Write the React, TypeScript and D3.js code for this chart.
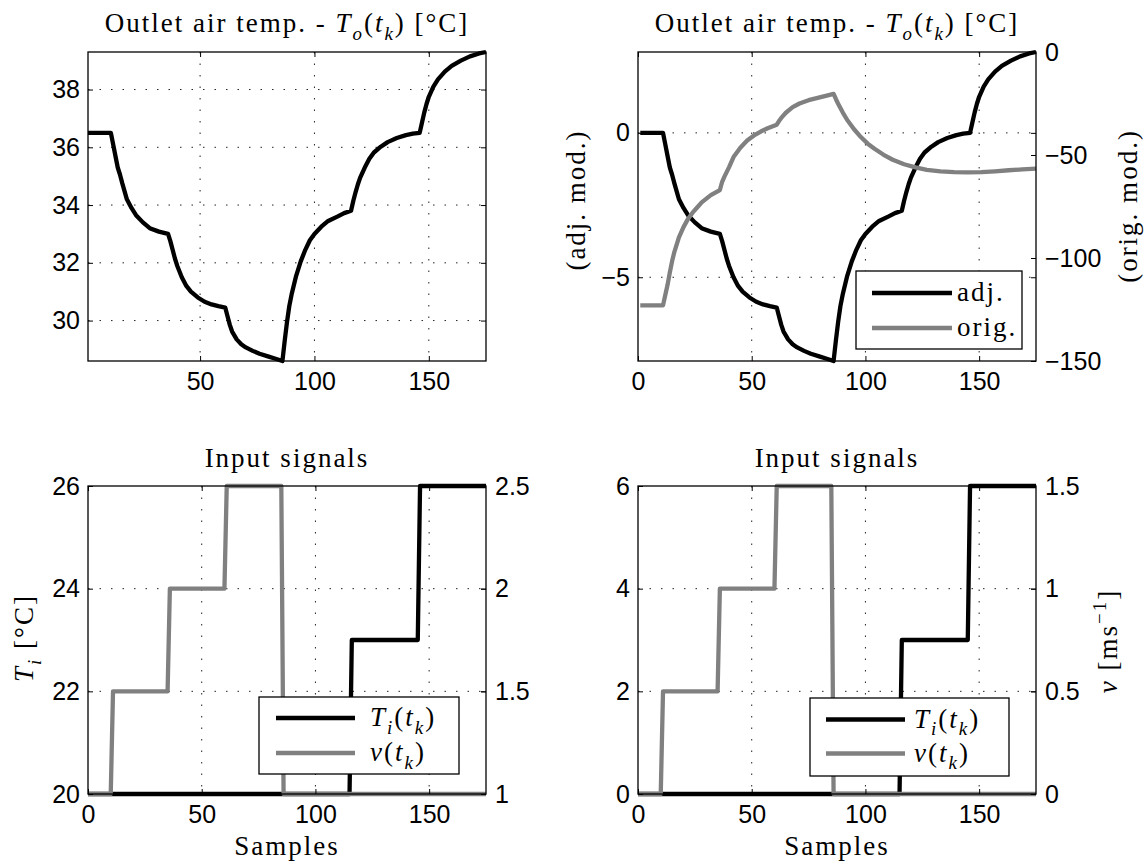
import * as d3 from 'd3'
import React, { useEffect, useRef } from 'react'

// Outlet air temperature (sample index / degC)
const kOutlet = [1, 11, 12, 13, 14, 15, 16, 18, 20, 22, 25, 28, 32, 36, 37, 38, 39, 40, 42, 44, 46, 49, 52, 55, 58, 61, 62, 63, 64, 66, 68, 70, 73, 76, 80, 83, 86, 87, 88, 89, 90, 92, 94, 96, 98, 100, 103, 106, 110, 113, 116, 117, 118, 119, 120, 122, 124, 126, 129, 132, 136, 140, 143, 146, 147, 148, 149, 150, 152, 154, 157, 160, 164, 168, 172, 175]
const outletTemp = [36.5, 36.5, 36.1, 35.7, 35.3, 35.05, 34.75, 34.2, 33.9, 33.65, 33.4, 33.2, 33.08, 33.0, 32.75, 32.45, 32.15, 31.9, 31.5, 31.2, 31.0, 30.8, 30.65, 30.56, 30.5, 30.45, 30.15, 29.85, 29.62, 29.35, 29.18, 29.07, 28.95, 28.85, 28.75, 28.68, 28.6, 29.3, 29.95, 30.5, 30.9, 31.55, 32.05, 32.45, 32.78, 33.0, 33.25, 33.45, 33.6, 33.72, 33.8, 34.15, 34.45, 34.72, 34.95, 35.3, 35.6, 35.82, 36.02, 36.18, 36.32, 36.42, 36.47, 36.5, 36.85, 37.2, 37.5, 37.75, 38.1, 38.35, 38.62, 38.82, 39.0, 39.15, 39.25, 39.3]

// adjusted model (top-right, left axis)
const adjModel = [0, 0, -0.4, -0.8, -1.2, -1.45, -1.75, -2.3, -2.6, -2.85, -3.1, -3.3, -3.42, -3.5, -3.75, -4.05, -4.35, -4.6, -5.0, -5.3, -5.5, -5.7, -5.85, -5.94, -6.0, -6.05, -6.35, -6.65, -6.88, -7.15, -7.32, -7.43, -7.55, -7.65, -7.75, -7.82, -7.9, -7.2, -6.55, -6.0, -5.6, -4.95, -4.45, -4.05, -3.72, -3.5, -3.25, -3.05, -2.9, -2.78, -2.7, -2.35, -2.05, -1.78, -1.55, -1.2, -0.9, -0.68, -0.48, -0.32, -0.18, -0.08, -0.03, 0, 0.35, 0.7, 1.0, 1.25, 1.6, 1.85, 2.12, 2.32, 2.5, 2.65, 2.75, 2.8]

// original model (top-right, right axis)
const kOrig = [1, 11, 12, 13, 14, 15, 16, 18, 20, 22, 24, 26, 28, 32, 36, 37, 38, 40, 42, 45, 48, 51, 54, 57, 61, 62, 63, 65, 68, 71, 75, 79, 83, 86, 87, 88, 90, 92, 95, 98, 101, 104, 108, 112, 117, 122, 127, 133, 139, 145, 151, 157, 163, 169, 175]
const origModel = [-123, -123, -118, -113, -107, -101.5, -97, -90, -85, -81, -78, -75.5, -73, -69.5, -67, -63, -60.5, -56, -51, -46.5, -43, -40.5, -38.6, -37, -35.3, -33.5, -32, -29.5, -26.8, -25, -23.4, -22.3, -21.2, -20.3, -22.8, -25.1, -29.3, -33, -37.5, -41.3, -44.5, -47, -49.9, -52.3, -54.5, -56, -57.2, -57.9, -58.3, -58.4, -58.3, -57.9, -57.4, -57, -56.6]

// input signals
const kInlet = [0, 115, 116, 145, 146, 175]
const inletTemp = [20, 20, 23, 23, 26, 26]
const inletDelta = [0, 0, 3, 3, 6, 6]
const kSpeed = [0, 10, 11, 35, 36, 60, 61, 85, 86, 175]
const airSpeed = [1, 1, 1.5, 1.5, 2, 2, 2.5, 2.5, 1, 1]
const speedDelta = [0, 0, 0.5, 0.5, 1, 1, 1.5, 1.5, 0, 0]

// ticks
const xTicksTop = [50, 100, 150]
const xTicks = [0, 50, 100, 150]
const tempTicks = [30, 32, 34, 36, 38]
const adjTicks = [-5, 0]
const origTicks = [-150, -100, -50, 0]
const inletTicks = [20, 22, 24, 26]
const speedTicks = [1, 1.5, 2, 2.5]
const deltaTTicks = [0, 2, 4, 6]
const deltaVTicks = [0, 0.5, 1, 1.5]

const SANS = '"Liberation Sans", Arial, sans-serif'
const SERIF = '"Liberation Serif", "Times New Roman", serif'
const SERIF_SIZE = 27
const GRAY = '#808080'

type Seg = { t: string; it?: boolean; sub?: boolean; sup?: boolean }

const titleTemp: Seg[] = [
    { t: 'Outlet air temp. - ' }, { t: 'T', it: true }, { t: 'o', it: true, sub: true },
    { t: '(' }, { t: 't', it: true }, { t: 'k', it: true, sub: true }, { t: ') [°C]' },
]
const titleInput: Seg[] = [{ t: 'Input signals' }]
const legTi: Seg[] = [{ t: 'T', it: true }, { t: 'i', it: true, sub: true }, { t: '(' }, { t: 't', it: true }, { t: 'k', it: true, sub: true }, { t: ')' }]
const legV: Seg[] = [{ t: 'v', it: true }, { t: '(' }, { t: 't', it: true }, { t: 'k', it: true, sub: true }, { t: ')' }]

const fmt = (d: any) => String(d).replace('-', '\u2212')

// writes a piece of text with italic / sub / superscript parts
function richText(sel: any, segs: Seg[], size: number) {
    let shift = 0
    sel.attr('font-family', SERIF).style('white-space', 'pre').style('letter-spacing', '2px')
    segs.forEach(s => {
        const target = s.sub ? size * 0.28 : s.sup ? -size * 0.42 : 0
        sel.append('tspan')
            .attr('dy', target - shift)
            .style('font-style', s.it ? 'italic' : 'normal')
            .style('font-size', (s.sub || s.sup) ? size * 0.7 + 'px' : size + 'px')
            .text(s.t)
        shift = target
    })
}

function styleAxis(g: any) {
    g.select('.domain').remove()
    g.selectAll('line').attr('stroke', '#000').attr('stroke-width', 1)
    g.selectAll('text').attr('font-family', SANS).attr('font-size', 25).attr('fill', '#000')
}

function drawPanel(svg: any, p: any) {
    const g = svg.append('g')
    const x = d3.scaleLinear().domain(p.xDomain).range([p.left, p.right])
    const y = d3.scaleLinear().domain(p.yDomain).range([p.bottom, p.top])
    const y2 = p.y2Domain ? d3.scaleLinear().domain(p.y2Domain).range([p.bottom, p.top]) : null

    // dotted grid
    const grid = g.append('g').attr('stroke', '#222').attr('stroke-width', 1).attr('stroke-dasharray', '1.5 10')
    p.xTicks.filter((t: number) => t > p.xDomain[0] && t < p.xDomain[1]).forEach((t: number) => {
        grid.append('line').attr('x1', x(t)).attr('x2', x(t)).attr('y1', p.top).attr('y2', p.bottom)
    })
    p.yTicks.filter((t: number) => t > p.yDomain[0] && t < p.yDomain[1]).forEach((t: number) => {
        grid.append('line').attr('x1', p.left).attr('x2', p.right).attr('y1', y(t)).attr('y2', y(t))
    })

    // series
    p.series.forEach((s: any) => {
        const sc = s.right ? y2 : y
        const line = d3.line<number>().x((_, i) => x(s.k[i])).y(d => sc!(d))
        g.append('path')
            .attr('d', line(s.v))
            .attr('fill', 'none')
            .attr('stroke', s.color)
            .attr('stroke-width', 4.3)
            .attr('stroke-linejoin', 'round')
    })

    // axes
    const bottom = g.append('g').attr('transform', `translate(0,${p.bottom})`)
        .call(d3.axisBottom(x).tickValues(p.xTicks).tickSize(-5).tickPadding(11).tickFormat(fmt))
    styleAxis(bottom)
    const top = g.append('g').attr('transform', `translate(0,${p.top})`)
        .call(d3.axisTop(x).tickValues(p.xTicks).tickSize(-5).tickFormat(() => ''))
    styleAxis(top)
    const left = g.append('g').attr('transform', `translate(${p.left},0)`)
        .call(d3.axisLeft(y).tickValues(p.yTicks).tickSize(-5).tickPadding(8).tickFormat(fmt))
    styleAxis(left)
    const mirror = g.append('g').attr('transform', `translate(${p.right},0)`)
        .call(d3.axisRight(y).tickValues(p.yTicks).tickSize(-5).tickFormat(() => ''))
    styleAxis(mirror)
    if (y2) {
        const right = g.append('g').attr('transform', `translate(${p.right},0)`)
            .call(d3.axisRight(y2).tickValues(p.y2Ticks).tickSize(-5).tickPadding(9).tickFormat(fmt))
        styleAxis(right)
    }

    g.append('rect')
        .attr('x', p.left).attr('y', p.top)
        .attr('width', p.right - p.left).attr('height', p.bottom - p.top)
        .attr('fill', 'none').attr('stroke', '#000').attr('stroke-width', 1.3)

    // title
    const title = g.append('text')
        .attr('x', (p.left + p.right) / 2).attr('y', p.titleY)
        .attr('text-anchor', 'middle')
    richText(title, p.title, SERIF_SIZE)

    if (p.xLabel) {
        const xl = g.append('text')
            .attr('x', (p.left + p.right) / 2).attr('y', 855)
            .attr('text-anchor', 'middle')
        richText(xl, [{ t: p.xLabel }], SERIF_SIZE)
    }

    // rotated axis labels
    ;(p.yLabels || []).forEach((l: any) => {
        const t = g.append('text')
            .attr('transform', `translate(${l.x},${l.y}) rotate(-90)`)
            .attr('text-anchor', 'middle')
        richText(t, l.segs, SERIF_SIZE)
    })

    // legend
    if (p.legend) {
        const L = p.legend
        g.append('rect').attr('x', L.x).attr('y', L.y).attr('width', L.w).attr('height', L.h)
            .attr('fill', '#fff').attr('stroke', '#000').attr('stroke-width', 1.3)
        L.rows.forEach((r: any) => {
            g.append('line').attr('x1', L.lx1).attr('x2', L.lx2).attr('y1', r.y).attr('y2', r.y)
                .attr('stroke', r.color).attr('stroke-width', 4.3)
            const t = g.append('text').attr('x', L.tx).attr('y', r.y + 8)
            richText(t, r.segs, SERIF_SIZE)
        })
    }
}

const panels = [
    {
        left: 88, right: 486, top: 52, bottom: 361, titleY: 32, title: titleTemp,
        xDomain: [1, 175], xTicks: xTicksTop, yDomain: [28.6, 39.3], yTicks: tempTicks,
        series: [{ k: kOutlet, v: outletTemp, color: '#000' }],
    },
    {
        left: 638, right: 1036, top: 52, bottom: 361, titleY: 32, title: titleTemp,
        xDomain: [0, 175], xTicks: xTicks, yDomain: [-7.9, 2.8], yTicks: adjTicks,
        y2Domain: [-150, 0], y2Ticks: origTicks,
        series: [
            { k: kOutlet, v: adjModel, color: '#000' },
            { k: kOrig, v: origModel, color: GRAY, right: true },
        ],
        yLabels: [
            { x: 585, y: 200, segs: [{ t: '(adj. mod.)' }] },
            { x: 1137, y: 206, segs: [{ t: '(orig. mod.)' }] },
        ],
        legend: {
            x: 856, y: 271, w: 166, h: 78, lx1: 872, lx2: 952, tx: 957,
            rows: [
                { y: 293, color: '#000', segs: [{ t: 'adj.' }] },
                { y: 328, color: GRAY, segs: [{ t: 'orig.' }] },
            ],
        },
    },
    {
        left: 88, right: 486, top: 486, bottom: 794, titleY: 467, title: titleInput,
        xDomain: [0, 175], xTicks: xTicks, yDomain: [20, 26], yTicks: inletTicks,
        y2Domain: [1, 2.5], y2Ticks: speedTicks, xLabel: 'Samples',
        series: [
            { k: kInlet, v: inletTemp, color: '#000' },
            { k: kSpeed, v: airSpeed, color: GRAY, right: true },
        ],
        yLabels: [
            { x: 33, y: 638, segs: [{ t: 'T', it: true }, { t: 'i', it: true, sub: true }, { t: ' [°C]' }] },
        ],
        legend: {
            x: 259, y: 697, w: 200, h: 77, lx1: 276, lx2: 355, tx: 370,
            rows: [
                { y: 718, color: '#000', segs: legTi },
                { y: 753, color: GRAY, segs: legV },
            ],
        },
    },
    {
        left: 638, right: 1036, top: 486, bottom: 794, titleY: 467, title: titleInput,
        xDomain: [0, 175], xTicks: xTicks, yDomain: [0, 6], yTicks: deltaTTicks,
        y2Domain: [0, 1.5], y2Ticks: deltaVTicks, xLabel: 'Samples',
        series: [
            { k: kInlet, v: inletDelta, color: '#000' },
            { k: kSpeed, v: speedDelta, color: GRAY, right: true },
        ],
        yLabels: [
            { x: 1117, y: 641, segs: [{ t: 'v', it: true }, { t: ' [ms' }, { t: '\u22121', sup: true }, { t: ']' }] },
        ],
        legend: {
            x: 810, y: 698, w: 199, h: 78, lx1: 826, lx2: 905, tx: 914,
            rows: [
                { y: 719.5, color: '#000', segs: legTi },
                { y: 753.5, color: GRAY, segs: legV },
            ],
        },
    },
]

const App = () => {
    const ref = useRef<SVGSVGElement>(null)

    useEffect(() => {
        const svg = d3.select(ref.current)
        svg.selectAll('*').remove()
        panels.forEach(p => drawPanel(svg, p))
    }, [])

    return (
        <svg ref={ref} width={1147} height={866}
            style={{ position: 'absolute', left: 0, top: 0, background: '#fff' }} />
    )
}

export default App
